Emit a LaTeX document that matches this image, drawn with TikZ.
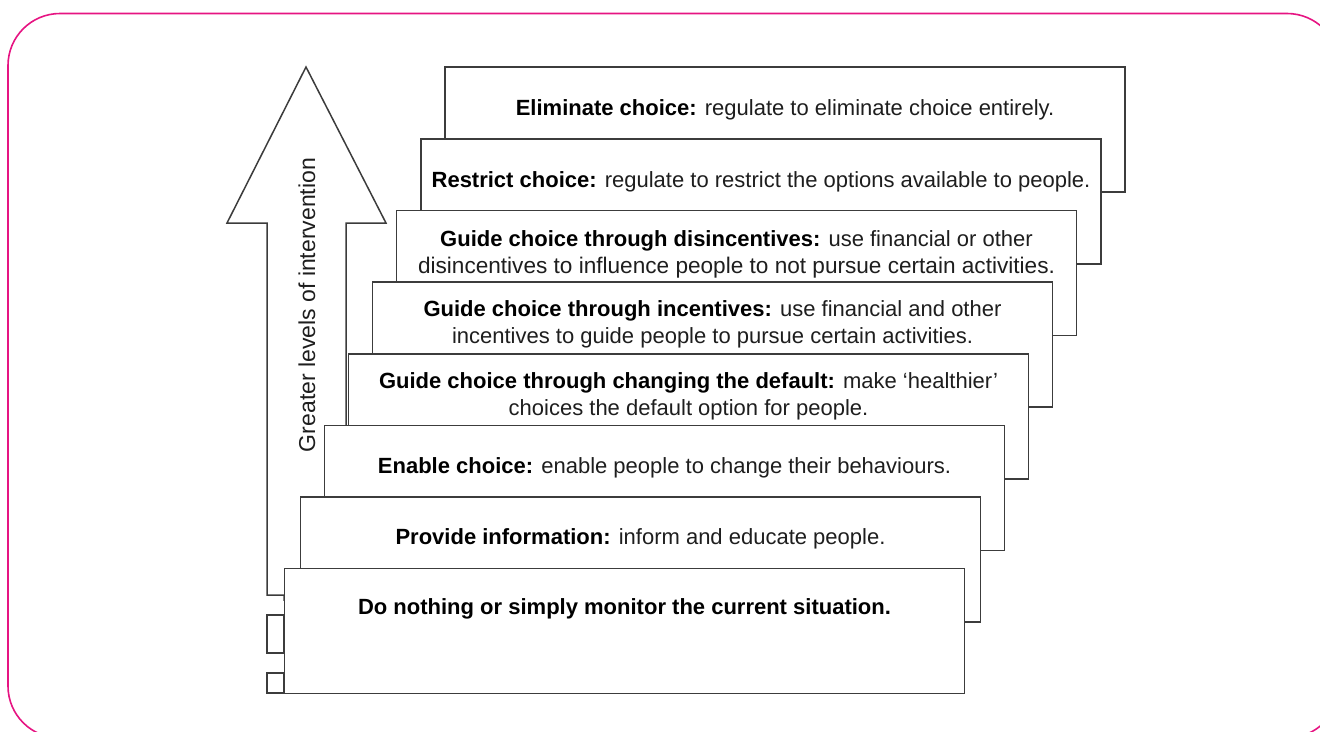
\documentclass[tikz,border=0pt]{standalone}
\usepackage{fontspec}
\setmainfont{Liberation Sans}
\usetikzlibrary{calc}
\definecolor{pinkline}{RGB}{230,20,130}
\definecolor{boxline}{RGB}{60,60,60}
\definecolor{txt}{RGB}{30,30,30}
\begin{document}
\begin{tikzpicture}[x=1pt,y=-1pt,
  stepbox/.style={draw=boxline, line width=1.5pt, fill=white, minimum width=680pt, minimum height=125pt, anchor=north west, inner sep=0pt, outer sep=0pt},
  steptext/.style={font=\fontsize{22}{27}\selectfont, text=txt, align=center, inner sep=0pt},
  arrowshape/.style={draw=boxline, line width=1.5pt, fill=white, line join=miter},
  smallrect/.style={draw=boxline, line width=1.5pt, fill=white}]
\useasboundingbox (0,0) rectangle (1320,731);
\begin{scope}
\clip (0,0) rectangle (1320,731);
\draw[pinkline, line width=1.6pt, rounded corners=52pt] (8,13.5) rectangle (1339,738);
\end{scope}
% arrow
\draw[arrowshape] (267,595) -- (267,223) -- (227,223) -- (306,67) -- (386,223) -- (346,223) -- (346,600) -- (284,600) -- (284,595) -- cycle;
\draw[smallrect] (267,615) rectangle (284,653);
\draw[smallrect] (267,673) rectangle (284,693);
\node[steptext, font=\fontsize{23}{27}\selectfont, rotate=90] (arrowlabel) at (307,305) {Greater levels of intervention};
% boxes
\node[stepbox] (b1) at (445,67) {};
\node[steptext] (t1) at ($(b1.north)+(0,42.5)$) {\textbf{\color{black}Eliminate choice:} regulate to eliminate choice entirely.};
\node[stepbox] (b2) at (421,139) {};
\node[steptext] (t2) at ($(b2.north)+(0,42.5)$) {\textbf{\color{black}Restrict choice:} regulate to restrict the options available to people.};
\node[stepbox] (b3) at (396.5,210.5) {};
\node[steptext] (t3) at ($(b3.north)+(0,43.5)$) {\textbf{\color{black}Guide choice through disincentives:} use financial or other\\\fontsize{22.6}{27}\selectfont disincentives to influence people to not pursue certain activities.};
\node[stepbox] (b4) at (372.5,282) {};
\node[steptext] (t4) at ($(b4.north)+(0,42.5)$) {\textbf{\color{black}Guide choice through incentives:} use financial and other\\incentives to guide people to pursue certain activities.};
\node[stepbox] (b5) at (348.5,354) {};
\node[steptext] (t5) at ($(b5.north)+(0,42.5)$) {\textbf{\color{black}Guide choice through changing the default:} make ‘healthier’\\choices the default option for people.};
\node[stepbox] (b6) at (324.5,425.5) {};
\node[steptext] (t6) at ($(b6.north)+(0,42)$) {\textbf{\color{black}Enable choice:} enable people to change their behaviours.};
\node[stepbox] (b7) at (300.5,497) {};
\node[steptext] (t7) at ($(b7.north)+(0,42)$) {\textbf{\color{black}Provide information:} inform and educate people.};
\node[stepbox] (b8) at (284.5,568.5) {};
\node[steptext] (t8) at ($(b8.north)+(0,40.5)$) {\textbf{\color{black}Do nothing or simply monitor the current situation.}};
\end{tikzpicture}
\end{document}
